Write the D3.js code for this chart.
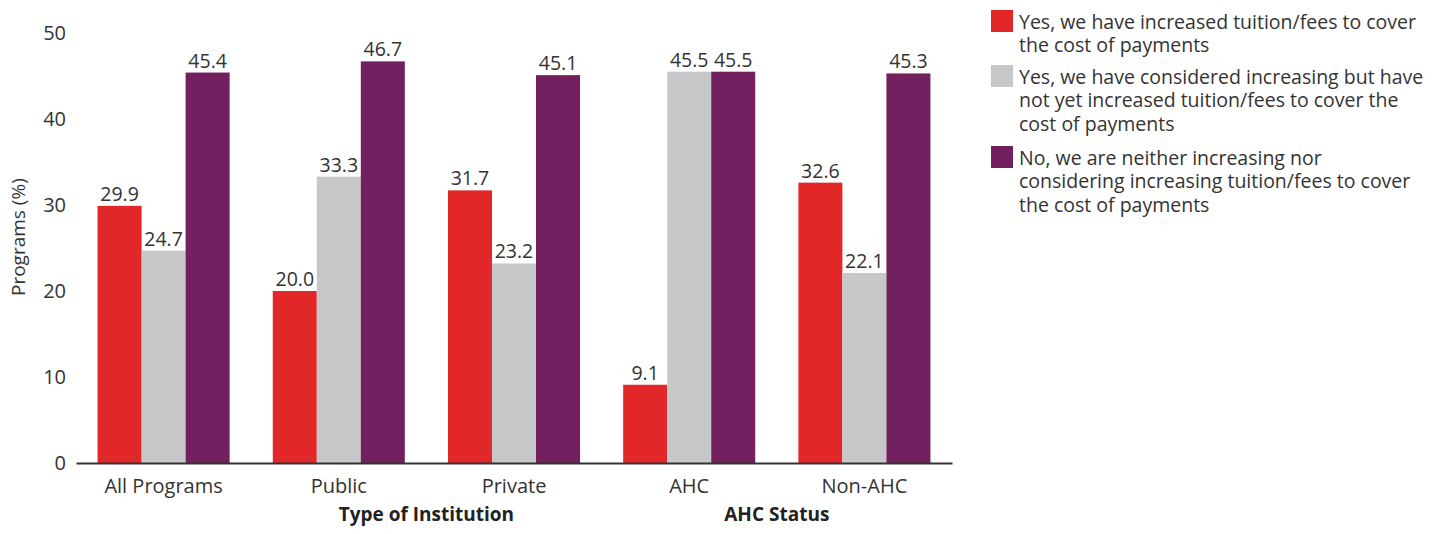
<!DOCTYPE html>
<html>
<head>
<meta charset="utf-8">
<script src="https://cdn.jsdelivr.net/npm/d3@7"></script>
<style>
  html, body { margin: 0; padding: 0; background: #fff; }
  svg { display: block; font-family: "Open Sans", "Noto Sans", sans-serif; }
</style>
</head>
<body>
<svg id="chart" width="1448" height="534"></svg>
<script>
// Tuition/fee response to payments, by institution type and AHC status
const categories = ["All Programs", "Public", "Private", "AHC", "Non-AHC"];
const seriesNames = [
  "Yes, we have increased tuition/fees to cover the cost of payments",
  "Yes, we have considered increasing but have not yet increased tuition/fees to cover the cost of payments",
  "No, we are neither increasing nor considering increasing tuition/fees to cover the cost of payments"
];
const increased  = [29.9, 20.0, 31.7, 9.1, 32.6];
const considered = [24.7, 33.3, 23.2, 45.5, 22.1];
const neither    = [45.4, 46.7, 45.1, 45.5, 45.3];
const seriesValues = [increased, considered, neither];
const yTicks = [0, 10, 20, 30, 40, 50];
const groupLabels = [
  { label: "Type of Institution", members: ["Public", "Private"] },
  { label: "AHC Status", members: ["AHC", "Non-AHC"] }
];
const legendLines = [
  ["Yes, we have increased tuition/fees to cover", "the cost of payments"],
  ["Yes, we have considered increasing but have", "not yet increased tuition/fees to cover the", "cost of payments"],
  ["No, we are neither increasing nor", "considering increasing tuition/fees to cover", "the cost of payments"]
];
const colors = ["#e12727", "#c6c7c9", "#722060"];
const textColor = "#333333";
const fontFamily = "'Open Sans', 'Noto Sans', sans-serif";

const svg = d3.select("#chart");
const plot = { left: 76, right: 952, top: 33, bottom: 463 };

const x0 = d3.scaleBand().domain(categories).range([plot.left, plot.right]).padding(0);
const x1 = d3.scaleBand().domain(d3.range(seriesNames.length))
  .range([0, x0.bandwidth()]).paddingInner(0).paddingOuter(0.49);
const y = d3.scaleLinear().domain([0, 50]).range([plot.bottom, plot.top]);

// Bars and value labels
const groups = svg.append("g").selectAll("g")
  .data(categories)
  .join("g")
  .attr("transform", d => `translate(${x0(d)},0)`);

groups.each(function(cat, ci) {
  const g = d3.select(this);
  seriesValues.forEach((vals, si) => {
    const v = vals[ci];
    g.append("rect")
      .attr("x", x1(si))
      .attr("y", y(v))
      .attr("width", x1.bandwidth())
      .attr("height", y(0) - y(v))
      .attr("fill", colors[si]);
    g.append("text")
      .attr("x", x1(si) + x1.bandwidth() / 2)
      .attr("y", y(v) - 5)
      .attr("text-anchor", "middle")
      .attr("font-size", 19.5)
      .attr("fill", textColor)
      .text(v.toFixed(1));
  });
});

// Y axis (labels only)
const yAxis = d3.axisLeft(y).tickValues(yTicks).tickSize(0).tickPadding(0).tickFormat(d3.format("d"));
const yg = svg.append("g").attr("transform", `translate(${plot.left - 10},0)`).call(yAxis);
yg.select(".domain").remove();
yg.selectAll("text").attr("font-size", 20).attr("fill", textColor)
  .attr("font-family", fontFamily);

// X axis
const xAxis = d3.axisBottom(x0).tickSize(0).tickPadding(15.5);
const xg = svg.append("g").attr("transform", `translate(0,${plot.bottom})`).call(xAxis);
xg.select(".domain").attr("stroke", "#333").attr("stroke-width", 2);
xg.selectAll("text").attr("font-size", 20).attr("fill", textColor)
  .attr("font-family", fontFamily);

// Group headings below the categories
groupLabels.forEach(gl => {
  const cx = d3.mean(gl.members, m => x0(m) + x0.bandwidth() / 2);
  svg.append("text")
    .attr("x", cx)
    .attr("y", 521)
    .attr("text-anchor", "middle")
    .attr("font-size", 19)
    .attr("font-weight", "bold")
    .attr("fill", "#222")
    .text(gl.label);
});

// Y axis title
svg.append("text")
  .attr("transform", "translate(25,296) rotate(-90)")
  .attr("text-anchor", "start")
  .attr("font-size", 19)
  .attr("fill", textColor)
  .text("Programs (%)");

// Legend
const legendTops = [10, 65, 146];
const legend = svg.append("g");
legendLines.forEach((lines, i) => {
  legend.append("rect")
    .attr("x", 991).attr("y", legendTops[i])
    .attr("width", 22).attr("height", 22)
    .attr("fill", colors[i]);
  const t = legend.append("text")
    .attr("font-size", 19.5)
    .attr("fill", textColor);
  lines.forEach((line, li) => {
    t.append("tspan")
      .attr("x", 1019)
      .attr("y", legendTops[i] + 18.5 + li * 23.5)
      .text(line);
  });
});
</script>
</body>
</html>
